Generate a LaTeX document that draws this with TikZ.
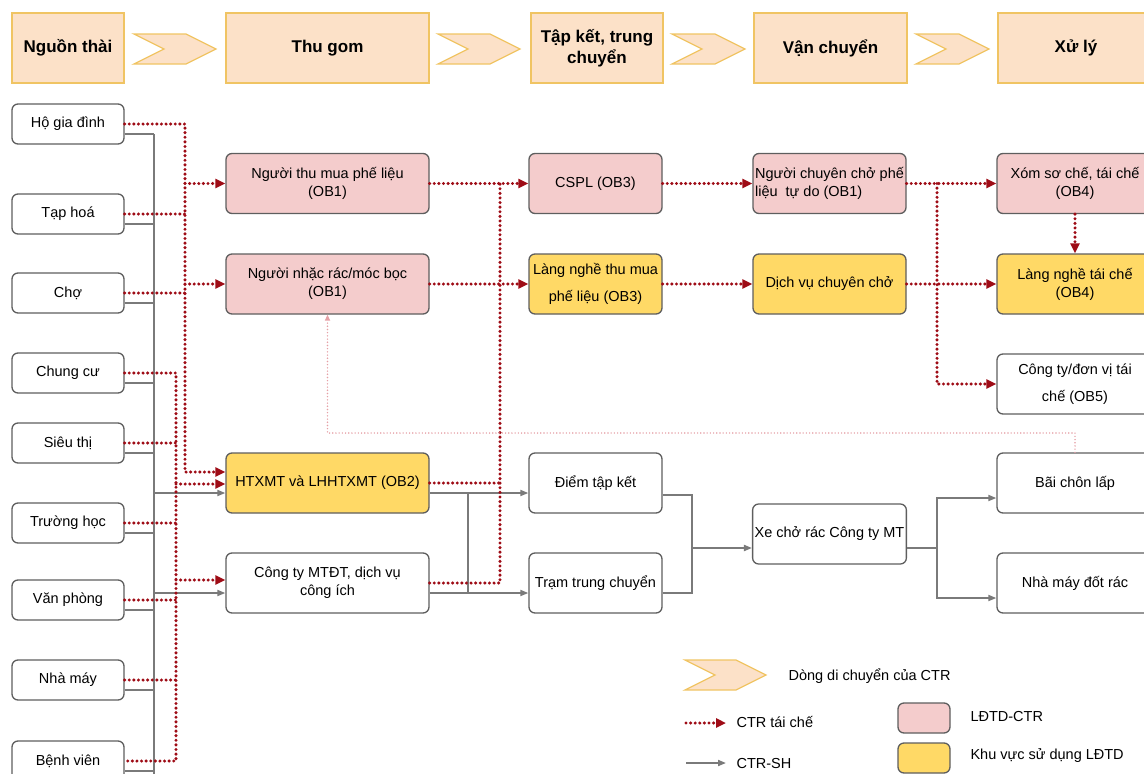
\documentclass[tikz,border=0pt]{standalone}
\usepackage{fontspec}
\setmainfont{Liberation Sans}
\usetikzlibrary{arrows.meta}
\definecolor{redline}{HTML}{9E0C16}
\definecolor{grayline}{HTML}{7A7A7A}
\definecolor{boxline}{HTML}{5E5E5E}
\definecolor{pinkfill}{HTML}{F4CCCC}
\definecolor{yellowfill}{HTML}{FFD966}
\definecolor{headfill}{HTML}{FCE1C8}
\definecolor{headline}{HTML}{F0C463}
\definecolor{fadeline}{HTML}{E5A0A6}
\tikzset{
  nbox/.style={draw=boxline,line width=1.3pt,rounded corners=6pt,align=center,inner sep=2pt,
    font=\fontsize{14.5}{18}\selectfont},
  srcbox/.style={nbox,minimum width=112,minimum height=40},
  pinkbox/.style={nbox,fill=pinkfill,minimum height=60},
  yellowbox/.style={nbox,fill=yellowfill,minimum height=60},
  whitebox/.style={nbox,minimum height=60},
  headbox/.style={draw=headline,fill=headfill,line width=1.3pt,minimum height=70,align=center,
    font=\bfseries\fontsize{17}{21}\selectfont},
  chev/.style={draw=headline,fill=headfill,line width=1.3pt},
  recyline/.style={draw=redline,line width=3.4pt,line cap=round,dash pattern=on 0pt off 4.6pt},
  recy/.style={recyline,-{Triangle[length=10pt,width=9pt]}},
  shline/.style={draw=grayline,line width=1.8pt},
  sh/.style={shline,-{Triangle[length=8pt,width=6pt]}},
  fade/.style={draw=fadeline,line width=1.6pt,line cap=round,dash pattern=on 0pt off 3.2pt,
    -{Triangle[length=6pt,width=5pt]}},
  legtext/.style={anchor=west,font=\fontsize{14.5}{18}\selectfont}
}
\begin{document}
\begin{tikzpicture}[x=1pt,y=-1pt]
\useasboundingbox (0,0) rectangle (1144,774);
\clip (0,0) rectangle (1144,774);
\node[headbox,minimum width=112] (h1) at (68,48) {Nguồn thài};
\node[headbox,minimum width=203] (h2) at (327.5,48) {Thu gom};
\node[headbox,minimum width=132] (h3) at (597,48) {Tập kết, trung\\chuyển};
\node[headbox,minimum width=153] (h4) at (830.5,48) {Vận chuyển};
\node[headbox,minimum width=156] (h5) at (1076,48) {Xử lý};
\foreach \a/\b in {134/216,438/520,672/745,916/989}
  \draw[chev] (\a,34) -- (\b-30,34) -- (\b,49) -- (\b-30,64) -- (\a,64) -- (\a+30,49) -- cycle;

\node[srcbox] (hgd) at (68,124) {Hộ gia đình};
\node[srcbox] (tap) at (68,214) {Tạp hoá};
\node[srcbox] (cho) at (68,293) {Chợ};
\node[srcbox] (chc) at (68,373) {Chung cư};
\node[srcbox] (sth) at (68,443) {Siêu thị};
\node[srcbox] (thoc) at (68,523) {Trường học};
\node[srcbox] (vph) at (68,600) {Văn phòng};
\node[srcbox] (nmy) at (68,680) {Nhà máy};
\node[srcbox] (bvn) at (68,761) {Bệnh viên};

\node[pinkbox,minimum width=203] (ntm) at (327.5,183.5) {Người thu mua phế liệu\\(OB1)};
\node[pinkbox,minimum width=203] (nnr) at (327.5,284) {Người nhặc rác/móc bọc\\(OB1)};
\node[yellowbox,minimum width=203] (htx) at (327.5,483) {HTXMT và LHHTXMT (OB2)};
\node[whitebox,minimum width=203] (ctmt) at (327.5,583) {Công ty MTĐT, dịch vụ\\công ích};

\node[pinkbox,minimum width=133] (cspl) at (595.5,183.5) {CSPL (OB3)};
\node[yellowbox,minimum width=133] (lntm) at (595.5,284) {Làng nghề thu mua\\[9pt]phế liệu (OB3)};
\node[whitebox,minimum width=133] (dtk) at (595.5,483) {Điểm tập kết};
\node[whitebox,minimum width=133] (ttc) at (595.5,583) {Trạm trung chuyển};

\node[pinkbox,minimum width=153,align=left,inner xsep=1pt] (ncc) at (829.5,183.5) {Người chuyên chở phế\\liệu \ tự do (OB1)};
\node[yellowbox,minimum width=153] (dvcc) at (829.5,284) {Dịch vụ chuyên chở};
\node[whitebox,minimum width=153] (xe) at (829.5,534) {Xe chở rác Công ty MT};

\node[pinkbox,minimum width=156] (xom) at (1075,183.5) {Xóm sơ chế, tái chế\\(OB4)};
\node[yellowbox,minimum width=156] (lntc) at (1075,284) {Làng nghề tái chế\\(OB4)};
\node[whitebox,minimum width=156] (ctdv) at (1075,384) {Công ty/đơn vị tái\\[9pt]chế (OB5)};
\node[whitebox,minimum width=156] (bcl) at (1075,483) {Bãi chôn lấp};
\node[whitebox,minimum width=156] (nmdr) at (1075,583) {Nhà máy đốt rác};

\coordinate (gb) at (154,134);
\coordinate (gc) at (468,493);
\coordinate (gd) at (692,548);
\coordinate (ge) at (937,548);
\draw[shline] (gb) -- (154,774);
\foreach \n in {hgd,tap,cho,chc,sth,thoc,vph,nmy,bvn}
  \draw[shline] ([yshift=-10pt]\n.east) -- ([yshift=-10pt]\n.east -| gb);
\draw[sh] ([yshift=-10pt]htx.west -| gb) -- ([yshift=-10pt]htx.west);
\draw[sh] ([yshift=-10pt]ctmt.west -| gb) -- ([yshift=-10pt]ctmt.west);
\draw[sh] ([yshift=-10pt]htx.east) -- ([yshift=-10pt]dtk.west);
\draw[sh] ([yshift=-10pt]ctmt.east) -- ([yshift=-10pt]ttc.west);
\draw[shline] (gc) -- ([yshift=-10pt]ttc.west -| gc);
\draw[shline] ([yshift=-12pt]dtk.east) -| (gd);
\draw[shline] ([yshift=-10pt]ttc.east) -| (gd);
\draw[sh] (gd) -- (gd -| xe.west);
\draw[shline] (xe.east |- ge) -- (ge);
\draw[sh] (ge) |- ([yshift=-15pt]bcl.west);
\draw[sh] (ge) |- ([yshift=-15pt]nmdr.west);

\coordinate (ra) at (185,472);
\coordinate (rb) at (176,484);
\coordinate (rc) at (500,583);
\coordinate (rd) at (937,384);
\draw[recy] (hgd.east) -| (ra) -- (ra -| htx.west);
\draw[recyline] (tap.east) -- (tap.east -| ra);
\draw[recyline] (cho.east) -- (cho.east -| ra);
\draw[recy] (ra |- ntm.west) -- (ntm.west);
\draw[recy] (ra |- nnr.west) -- (nnr.west);
\draw[recyline] (chc.east) -| (rb) |- (bvn.east);
\foreach \n in {sth,thoc,vph,nmy}
  \draw[recyline] (\n.east) -- (\n.east -| rb);
\draw[recy] (rb) -- (rb -| htx.west);
\draw[recy] ([yshift=3pt]ctmt.west -| rb) -- ([yshift=3pt]ctmt.west);
\draw[recy] (ntm.east) -- (cspl.west);
\draw[recy] (nnr.east) -- (lntm.west);
\draw[recyline] (ctmt.east) -- (rc) -- (rc |- cspl.west);
\draw[recyline] (htx.east) -- (htx.east -| rc);
\draw[recy] (cspl.east) -- (ncc.west);
\draw[recy] (lntm.east) -- (dvcc.west);
\draw[recy] (ncc.east) -- (xom.west);
\draw[recy] (dvcc.east) -- (lntc.west);
\draw[recy] (ncc.east -| rd) |- (ctdv.west);
\draw[recy] (xom.south) -- (lntc.north);

\coordinate (fa) at (327.5,433);
\draw[fade] (bcl.north) |- (fa) -- (nnr.south);

\draw[chev] (685,660) -- (736,660) -- (766,675) -- (736,690) -- (685,690) -- (715,675) -- cycle;
\node[legtext] (lt1) at (785,676) {Dòng di chuyển của CTR};
\coordinate (la) at (686,723);
\coordinate (lb) at (726,723);
\draw[recy] (la) -- (lb);
\node[legtext] (lt2) at (733,722) {CTR tái chế};
\coordinate (lc) at (686,763);
\coordinate (ld) at (726,763);
\draw[sh] (lc) -- (ld);
\node[legtext] (lt3) at (733,763) {CTR-SH};
\node[nbox,fill=pinkfill,minimum width=52,minimum height=30] (lpink) at (924,718) {};
\node[legtext] (lt4) at (967,717) {LĐTD-CTR};
\node[nbox,fill=yellowfill,minimum width=52,minimum height=30] (lyel) at (924,758) {};
\node[legtext] (lt5) at (967,756) {Khu vực sử dụng LĐTD};
\end{tikzpicture}
\end{document}
